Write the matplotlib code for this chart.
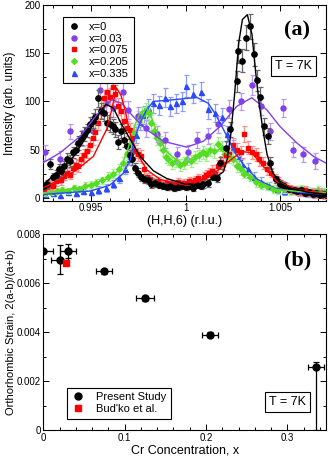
import matplotlib
matplotlib.use("Agg")
import matplotlib.pyplot as plt
from matplotlib.ticker import MultipleLocator

# ---- panel (a): (H,H,6) scans, points + fits ----
h_x0 = [0.99255, 0.99270, 0.99285, 0.99300, 0.99315, 0.99330, 0.99345, 0.99360, 0.99375, 0.99390,
        0.99405, 0.99420, 0.99435, 0.99450, 0.99465, 0.99480, 0.99495, 0.99510, 0.99525, 0.99540,
        0.99555, 0.99570, 0.99585, 0.99600, 0.99615, 0.99630, 0.99645, 0.99660, 0.99675, 0.99690,
        0.99705, 0.99720, 0.99735, 0.99750, 0.99765, 0.99780, 0.99800, 0.99820, 0.99840, 0.99860,
        0.99880, 0.99900, 0.99920, 0.99940, 0.99960, 0.99980, 1.00000, 1.00020, 1.00040, 1.00060,
        1.00080, 1.00092, 1.00120, 1.00145, 1.00165, 1.00182, 1.00212, 1.00235, 1.00270, 1.00278,
        1.00296, 1.00319, 1.00340, 1.00361, 1.00379, 1.00395, 1.00414, 1.00433, 1.00446, 1.00477,
        1.00500, 1.00520, 1.00545, 1.00570, 1.00590, 1.00610, 1.00630, 1.00650, 1.00670, 1.00690,
        1.00710, 1.00730]
i_x0 = [12, 14, 35, 22, 24, 30, 28, 33, 40, 38,
        47, 50, 57, 62, 66, 70, 76, 80, 84, 103,
        90, 88, 78, 76, 74, 71, 58, 69, 60, 54,
        44, 40, 31, 26, 21, 19, 18, 14, 15, 13,
        12, 11, 12, 10, 11, 12, 11, 12, 10, 13,
        12, 14, 15, 22, 20, 36, 52, 71, 121, 152,
        142, 166, 178, 149, 122, 105, 74, 64, 36, 19,
        14, 12, 9, 8, 7, 8, 5, 6, 4, 5,
        3, 4]
e_x0 = [3, 4, 5, 4, 5, 5, 5, 5, 6, 6,
        6, 6, 7, 7, 7, 7, 8, 8, 8, 9,
        8, 8, 8, 8, 8, 8, 7, 7, 7, 7,
        6, 6, 5, 5, 4, 4, 4, 4, 4, 3,
        3, 3, 3, 3, 3, 3, 3, 3, 3, 3,
        3, 4, 4, 4, 4, 6, 7, 8, 11, 12,
        12, 13, 13, 12, 11, 10, 9, 8, 6, 4,
        4, 4, 3, 3, 3, 3, 3, 3, 3, 3,
        3, 3]

h_x003 = [0.99260, 0.99338, 0.99391, 0.99453, 0.99514, 0.99549, 0.99580, 0.99619, 0.99672, 0.99698,
          0.99750, 0.99790, 0.99850, 0.99892, 0.99953, 1.00015, 1.00059, 1.00120, 1.00173, 1.00230,
          1.00290, 1.00349, 1.00400, 1.00446, 1.00516, 1.00569, 1.00621, 1.00683]
i_x003 = [47, 40, 69, 62, 69, 112, 98, 93, 110, 91,
          85, 72, 66, 60, 45, 47, 60, 64, 76, 92,
          100, 117, 95, 69, 93, 50, 45, 38]
e_x003 = [8, 8, 8, 8, 8, 10, 9, 9, 10, 9,
          9, 9, 8, 8, 8, 8, 8, 8, 9, 9,
          9, 10, 9, 9, 9, 8, 8, 8]

h_x0075 = [0.99255, 0.99270, 0.99285, 0.99300, 0.99315, 0.99330, 0.99345, 0.99360, 0.99375, 0.99390,
           0.99405, 0.99420, 0.99435, 0.99450, 0.99465, 0.99480, 0.99495, 0.99510, 0.99525, 0.99540,
           0.99555, 0.99570, 0.99585, 0.99600, 0.99615, 0.99630, 0.99645, 0.99660, 0.99675, 0.99690,
           0.99705, 0.99720, 0.99735, 0.99750, 0.99765, 0.99780, 0.99795, 0.99810, 0.99825, 0.99840,
           0.99855, 0.99870, 0.99885, 0.99900, 0.99915, 0.99930, 0.99945, 0.99960, 0.99975, 0.99990,
           1.00005, 1.00020, 1.00035, 1.00050, 1.00065, 1.00080, 1.00095, 1.00110, 1.00125, 1.00140,
           1.00155, 1.00170, 1.00185, 1.00200, 1.00215, 1.00230, 1.00250, 1.00270, 1.00290, 1.00310,
           1.00330, 1.00350, 1.00370, 1.00390, 1.00410, 1.00430, 1.00450, 1.00470, 1.00490, 1.00510,
           1.00530, 1.00550, 1.00570, 1.00590, 1.00610, 1.00630, 1.00650, 1.00670, 1.00690, 1.00710,
           1.00730]
i_x0075 = [9, 11, 13, 12, 17, 20, 18, 23, 26, 24,
           31, 34, 33, 40, 44, 48, 55, 62, 68, 78,
           92, 103, 110, 105, 115, 108, 95, 90, 80, 72,
           70, 62, 48, 45, 43, 30, 21, 19, 16, 15,
           17, 14, 13, 15, 12, 14, 13, 16, 14, 15,
           13, 17, 16, 18, 20, 17, 22, 24, 26, 28,
           25, 33, 37, 35, 44, 45, 55, 50, 47, 66,
           52, 47, 45, 40, 36, 30, 26, 20, 17, 13,
           11, 9, 8, 7, 6, 8, 5, 6, 4, 5,
           3]
e_x0075 = [4, 4, 4, 4, 5, 5, 5, 5, 5, 5,
           6, 6, 6, 6, 7, 7, 7, 7, 8, 8,
           9, 9, 9, 9, 10, 9, 9, 9, 8, 8,
           8, 8, 7, 7, 7, 6, 5, 5, 4, 4,
           4, 4, 4, 4, 4, 4, 4, 4, 4, 4,
           4, 4, 4, 5, 5, 5, 5, 5, 5, 6,
           6, 6, 6, 6, 7, 7, 7, 7, 7, 8,
           7, 7, 7, 7, 6, 6, 5, 5, 5, 4,
           4, 4, 4, 4, 4, 4, 4, 4, 4, 4,
           4]

h_x0205 = [0.99260, 0.99290, 0.99320, 0.99350, 0.99380, 0.99410, 0.99440, 0.99470, 0.99500, 0.99530,
           0.99560, 0.99590, 0.99620, 0.99650, 0.99670, 0.99690, 0.99710, 0.99730, 0.99750, 0.99770,
           0.99790, 0.99805, 0.99820, 0.99835, 0.99850, 0.99865, 0.99880, 0.99895, 0.99910, 0.99930,
           0.99950, 0.99970, 0.99990, 1.00010, 1.00030, 1.00050, 1.00070, 1.00090, 1.00110, 1.00130,
           1.00150, 1.00170, 1.00190, 1.00210, 1.00230, 1.00250, 1.00270, 1.00290, 1.00310, 1.00340,
           1.00370, 1.00400, 1.00430, 1.00460, 1.00490, 1.00520, 1.00550, 1.00580, 1.00610, 1.00640,
           1.00670, 1.00700, 1.00730]
i_x0205 = [5, 6, 7, 8, 7, 10, 9, 12, 13, 15,
           18, 22, 25, 30, 36, 45, 55, 68, 82, 86,
           90, 88, 78, 69, 62, 57, 50, 42, 40, 36,
           38, 34, 36, 40, 38, 42, 44, 47, 45, 50,
           48, 56, 52, 45, 42, 40, 33, 30, 25, 22,
           16, 13, 12, 9, 8, 9, 7, 8, 9, 7,
           6, 8, 6]
e_x0205 = [3, 3, 3, 3, 3, 3, 3, 4, 4, 4,
           4, 5, 5, 5, 6, 6, 7, 7, 8, 8,
           8, 8, 8, 7, 7, 7, 7, 6, 6, 6,
           6, 6, 6, 6, 6, 6, 6, 7, 7, 7,
           7, 7, 7, 7, 6, 6, 6, 6, 5, 5,
           5, 4, 4, 4, 4, 4, 4, 4, 4, 4,
           4, 4, 4]

h_x0335 = [0.99260, 0.99300, 0.99340, 0.99380, 0.99420, 0.99460, 0.99500, 0.99540, 0.99580, 0.99620,
           0.99650, 0.99680, 0.99700, 0.99720, 0.99740, 0.99760, 0.99780, 0.99800, 0.99830, 0.99860,
           0.99890, 0.99920, 0.99950, 0.99980, 1.00000, 1.00040, 1.00080, 1.00120, 1.00156, 1.00190,
           1.00220, 1.00250, 1.00280, 1.00300, 1.00330, 1.00360, 1.00400, 1.00440, 1.00480, 1.00520,
           1.00560, 1.00600, 1.00640, 1.00680, 1.00720]
i_x0335 = [4, 5, 3, 6, 5, 7, 6, 8, 10, 14,
           20, 30, 40, 52, 65, 78, 86, 93, 98, 96,
           104, 95, 98, 100, 116, 108, 110, 92, 88, 84,
           66, 53, 42, 35, 30, 22, 16, 12, 9, 7,
           8, 6, 5, 4, 6]
e_x0335 = [3, 3, 3, 3, 3, 3, 3, 4, 4, 4,
           5, 5, 6, 7, 8, 8, 9, 9, 10, 10,
           10, 10, 10, 10, 11, 10, 10, 10, 9, 9,
           8, 7, 7, 6, 6, 5, 5, 4, 4, 4,
           4, 4, 4, 4, 4]

# fit curves
fh_x0 = [0.9925, 0.9934, 0.9941, 0.9948, 0.9953, 0.9958, 0.9962, 0.99655, 0.9971, 0.9976,
         0.9983, 0.9990, 1.0000, 1.0009, 1.00165, 1.0020, 1.0022, 1.0024, 1.0026, 1.0028,
         1.0030, 1.00326, 1.0035, 1.0037, 1.0039, 1.0041, 1.0043, 1.0046, 1.0050, 1.0055,
         1.0065, 1.0074]
fi_x0 = [14, 29, 43, 64, 83, 97, 93, 79, 60, 43,
         28, 20, 14, 14, 22, 27, 40, 68, 110, 160,
         185, 190, 170, 130, 95, 68, 45, 26, 15, 10,
         5.5, 3.5]
fh_x003 = [0.9925, 0.99338, 0.99444, 0.99532, 0.99611, 0.99663, 0.99725, 0.99795, 0.99883, 1.00006,
           1.00094, 1.00182, 1.0027, 1.00349, 1.00428, 1.00498, 1.00586, 1.00674, 1.0074]
fi_x003 = [36.5, 46.6, 63.7, 86, 101.7, 98, 84, 70.7, 58.6, 52.5,
           58.6, 74, 94.8, 103.8, 91.4, 74, 57, 43, 36]
fh_x0075 = [0.9925, 0.9934, 0.99426, 0.99514, 0.99584, 0.9961, 0.99636, 0.9966, 0.99681, 0.99707,
            0.99743, 0.99795, 0.99866, 1.00006, 1.00024, 1.00129, 1.00217, 1.00296, 1.00349, 1.0041,
            1.00481, 1.00586, 1.00752]
fi_x0075 = [10.3, 19, 29, 43, 71, 91, 114, 106, 91, 67,
            46.6, 29, 19, 12.7, 13.5, 22, 36, 48, 46.6, 32.7,
            17, 8.6, 3.4]
fh_x0205 = [0.9925, 0.9944, 0.9958, 0.99655, 0.99695, 0.9973, 0.9976, 0.99795, 0.9982, 0.99855,
            0.9990, 0.99953, 0.9998, 1.00041, 1.00129, 1.00182, 1.00244, 1.00305, 1.00376, 1.00481,
            1.0060, 1.0074]
fi_x0205 = [5, 10, 19, 29, 50, 74, 88, 93, 84, 64,
            48, 39, 35, 39.6, 48, 50, 43, 29, 17, 8.6,
            6.5, 5.5]
fh_x0335 = [0.9925, 0.9950, 0.9960, 0.9967, 0.9971, 0.99725, 0.9976, 0.99795, 0.9983, 0.9990,
            1.0000, 1.0006, 1.0012, 1.0016, 1.0021, 1.0026, 1.0031, 1.0038, 1.0047, 1.0060,
            1.0074]
fi_x0335 = [3.4, 7, 13, 25, 40, 57, 77.6, 91.4, 100, 101,
            103, 104, 98, 86, 67, 47, 33, 19, 10, 5.5,
            3.5]

# ---- panel (b): orthorhombic strain vs Cr content ----
cr_x = [0.0, 0.02, 0.03, 0.075, 0.125, 0.205, 0.335]
strain = [0.00732, 0.00696, 0.00731, 0.00648, 0.00537, 0.00390, 0.00258]
cr_xerr = [0.012, 0.010, 0.010, 0.010, 0.011, 0.010, 0.010]
strain_lo = [0.0, 0.0006, 0.0003, 0.0001, 0.0001, 0.0001, 0.00258]
strain_hi = [0.0, 0.0006, 0.0003, 0.0001, 0.0001, 0.0001, 0.00018]
budko_x = [0.028]
budko_y = [0.00682]

plt.rcParams['font.family'] = ['Liberation Sans', 'DejaVu Sans']
plt.rcParams['font.size'] = 8

fig = plt.figure(figsize=(3.28, 4.58), dpi=100)
ax1 = fig.add_axes([0.131, 0.562, 0.863, 0.427])
ax2 = fig.add_axes([0.132, 0.061, 0.863, 0.428])

series = [
    (h_x0335, i_x0335, e_x0335, fh_x0335, fi_x0335, '#2a48ff', '#8c9cff', '^', 'x=0.335', 3.6),
    (h_x0205, i_x0205, e_x0205, fh_x0205, fi_x0205, '#55dd22', '#a4ee90', 'D', 'x=0.205', 3.0),
    (h_x003, i_x003, e_x003, fh_x003, fi_x003, '#8040ee', '#b69af5', 'o', 'x=0.03', 3.6),
    (h_x0075, i_x0075, e_x0075, fh_x0075, fi_x0075, '#ff0000', '#ff8f8f', 's', 'x=0.075', 3.4),
    (h_x0, i_x0, e_x0, fh_x0, fi_x0, '#000000', '#666666', 'o', 'x=0', 3.8),
]
handles = {}
for k, (hx, iy, ey, fx, fy, col, ecol, mk, lab, ms) in enumerate(series):
    ax1.errorbar(hx, iy, yerr=ey, fmt='none', ecolor=ecol, elinewidth=0.9,
                 capsize=1.8, capthick=0.9, zorder=2 + k)
    ln, = ax1.plot(hx, iy, ls='none', marker=mk, ms=ms, color=col, mec=col, zorder=2.5 + k, label=lab)
    ax1.plot(fx, fy, '-', color=col, lw=1.0, zorder=8)
    handles[lab] = ln

order = ['x=0', 'x=0.03', 'x=0.075', 'x=0.205', 'x=0.335']
leg = ax1.legend([handles[o] for o in order], order, loc='upper left', bbox_to_anchor=(0.05, 0.965),
                 fontsize=8, frameon=True, fancybox=False, edgecolor='black', framealpha=1,
                 handlelength=1.2, handletextpad=0.8, labelspacing=0.15, borderpad=0.4)
leg.get_frame().set_linewidth(0.8)

ax1.set_xlim(0.99248, 1.00741)
ax1.set_ylim(-3, 200)
ax1.xaxis.set_major_locator(MultipleLocator(0.005))
ax1.xaxis.set_minor_locator(MultipleLocator(0.001))
ax1.yaxis.set_major_locator(MultipleLocator(50))
ax1.yaxis.set_minor_locator(MultipleLocator(25))
ax1.set_xticks([0.995, 1.0, 1.005])
ax1.set_xticklabels(['0.995', '1', '1.005'])
ax1.set_xlabel('(H,H,6) (r.l.u.)', fontsize=9, labelpad=1)
ax1.set_ylabel('Intensity (arb. units)', fontsize=8.5)
ax1.yaxis.set_label_coords(-0.095, 0.5)
ax1.text(0.899, 0.872, '(a)', transform=ax1.transAxes, ha='center', va='center',
         fontsize=16, fontweight='bold', family='Liberation Serif')
ax1.text(0.885, 0.688, 'T = 7K', transform=ax1.transAxes, ha='center', va='center', fontsize=9,
         bbox=dict(boxstyle='square,pad=0.3', fc='white', ec='black', lw=0.8))

# panel (b)
ax2.errorbar(cr_x, strain, xerr=cr_xerr, yerr=[strain_lo, strain_hi], fmt='none', ecolor='black',
             elinewidth=0.9, capsize=2, capthick=0.9, zorder=2)
p1, = ax2.plot(cr_x, strain, 'o', color='black', ms=5, zorder=4)
p2, = ax2.plot(budko_x, budko_y, 's', color='#ff0000', ms=4, zorder=5)
ax2.set_xlim(0, 0.348)
ax2.set_ylim(0, 0.008)
ax2.xaxis.set_major_locator(MultipleLocator(0.1))
ax2.xaxis.set_minor_locator(MultipleLocator(0.02))
ax2.yaxis.set_major_locator(MultipleLocator(0.002))
ax2.yaxis.set_minor_locator(MultipleLocator(0.001))
ax2.set_xticks([0, 0.1, 0.2, 0.3])
ax2.set_xticklabels(['0', '0.1', '0.2', '0.3'])
ax2.set_yticks([0, 0.002, 0.004, 0.006, 0.008])
ax2.set_yticklabels(['0', '0.002', '0.004', '0.006', '0.008'])
ax2.set_xlabel('Cr Concentration, x', fontsize=9, labelpad=1)
ax2.set_ylabel('Orthorhombic Strain, 2(a-b)/(a+b)', fontsize=8)
ax2.yaxis.set_label_coords(-0.097, 0.5)
leg2 = ax2.legend([p1, p2], ['Present Study', "Bud'ko et al."], loc='upper left',
                  bbox_to_anchor=(0.065, 0.245), fontsize=8, frameon=True, fancybox=False,
                  edgecolor='black', framealpha=1, handlelength=1.2, handletextpad=1.0,
                  labelspacing=0.2, borderpad=0.4)
leg2.get_frame().set_linewidth(0.8)
ax2.text(0.899, 0.867, '(b)', transform=ax2.transAxes, ha='center', va='center',
         fontsize=16, fontweight='bold', family='Liberation Serif')
ax2.text(0.863, 0.144, 'T = 7K', transform=ax2.transAxes, ha='center', va='center', fontsize=9,
         bbox=dict(boxstyle='square,pad=0.3', fc='white', ec='black', lw=0.8))

for ax in (ax1, ax2):
    ax.tick_params(which='both', direction='in', top=True, right=True, labelsize=7, width=0.7, pad=2)
    ax.tick_params(which='major', length=4)
    ax.tick_params(which='minor', length=2)
    for sp in ax.spines.values():
        sp.set_linewidth(0.8)

fig.savefig('out.png', dpi=100)
